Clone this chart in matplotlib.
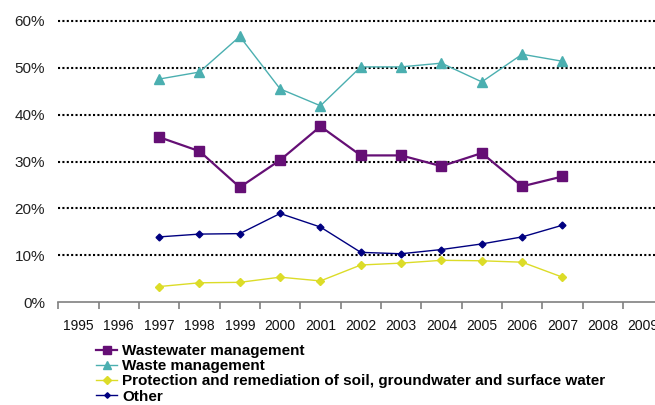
import matplotlib.pyplot as plt
from matplotlib.ticker import FixedLocator, FuncFormatter

plt.rcParams['font.family'] = ['Liberation Sans', 'DejaVu Sans']

years = list(range(1995, 2010))
data_years = list(range(1997, 2008))
wastewater = [35.2, 32.2, 24.5, 30.3, 37.5, 31.3, 31.3, 29.0, 31.8, 24.7, 26.8]
waste = [47.6, 49.1, 56.7, 45.5, 41.9, 50.2, 50.2, 51.0, 47.0, 52.9, 51.4]
protection = [3.3, 4.1, 4.2, 5.3, 4.5, 7.9, 8.3, 8.9, 8.8, 8.5, 5.3]
other = [13.9, 14.5, 14.6, 18.9, 16.0, 10.6, 10.3, 11.2, 12.4, 13.9, 16.4]

fig = plt.figure(figsize=(6.55, 4.05), dpi=100)
ax = fig.add_axes([58.3 / 655, 103 / 405, 605 / 655, 281 / 405])

xpos = [years.index(y) + 0.5 for y in data_years]
l1, = ax.plot(xpos, wastewater, color='#650F75', marker='s', markersize=6.5, lw=1.6,
              label='Wastewater management')
l2, = ax.plot(xpos, waste, color='#4BAFB0', marker='^', markersize=6.5, lw=1.0,
              label='Waste management')
l3, = ax.plot(xpos, protection, color='#DCDC28', marker='D', markersize=4.5, lw=1.0,
              label='Protection and remediation of soil, groundwater and surface water')
l4, = ax.plot(xpos, other, color='#000080', marker='D', markersize=3.5, lw=1.0,
              label='Other')

ax.set_xlim(0, len(years))
ax.set_ylim(0, 60)
ax.set_yticks(range(0, 61, 10))
ax.yaxis.set_major_formatter(FuncFormatter(lambda v, p: f'{int(v)}%'))
for v in range(10, 61, 10):
    ax.axhline(v, color='black', lw=1.5, linestyle=(0, (1, 1.1)), zorder=0, clip_on=False)

ax.xaxis.set_major_locator(FixedLocator([i + 0.5 for i in range(len(years))]))
ax.set_xticklabels([str(y) for y in years])
ax.xaxis.set_minor_locator(FixedLocator(range(len(years) + 1)))
ax.tick_params(axis='x', which='major', length=0, pad=12, labelsize=10, colors='#111111')
ax.tick_params(axis='x', which='minor', length=5, direction='out', color='#808080', width=1.2)
ax.tick_params(axis='y', length=0, pad=9.5, labelsize=11, colors='#222222')

for s in ['left', 'right', 'top']:
    ax.spines[s].set_visible(False)
ax.spines['bottom'].set_color('#808080')
ax.spines['bottom'].set_linewidth(1.2)

fig.legend(handles=[l1, l2, l3, l4], loc='upper left', bbox_to_anchor=(96 / 655, 1 - 344 / 405),
           frameon=False, prop={'weight': 'bold', 'size': 11}, labelspacing=0.08,
           handlelength=1.4, handletextpad=0.3, borderpad=0, borderaxespad=0, markerscale=0.8)

plt.savefig('out.png', dpi=100)
